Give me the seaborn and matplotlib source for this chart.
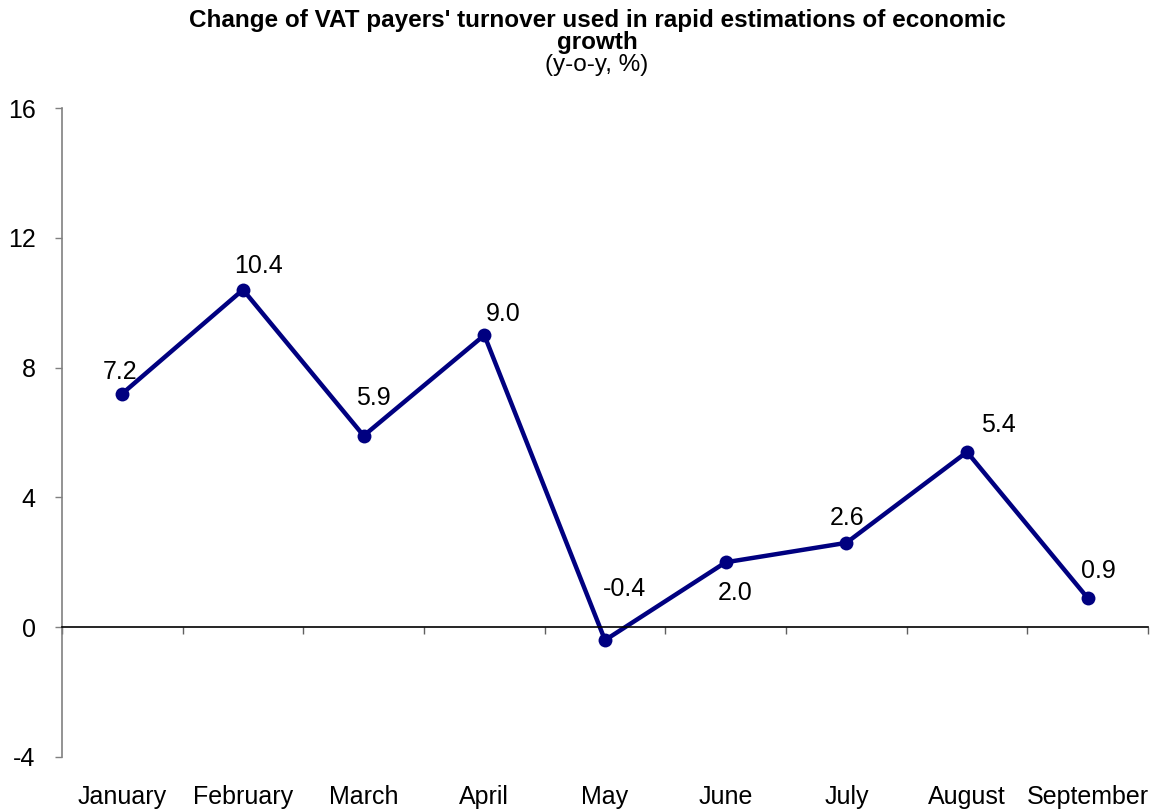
import matplotlib
matplotlib.use("Agg")
import matplotlib.pyplot as plt
import seaborn as sns
import pandas as pd

months = ["January", "February", "March", "April", "May", "June", "July", "August", "September"]
values = [7.2, 10.4, 5.9, 9.0, -0.4, 2.0, 2.6, 5.4, 0.9]
yticks = [-4, 0, 4, 8, 12, 16]

# label offsets in pixels (style only)
label_offsets = [(-2, 22), (16, 24), (10, 38), (19, 21), (19, 51), (9, -31), (1, 25), (31, 27), (11, 27)]

sns.set_style("white")
plt.rcParams["font.family"] = ["Liberation Sans", "DejaVu Sans"]
plt.rcParams["text.color"] = "black"

fig = plt.figure(figsize=(11.54, 8.11), dpi=100)
ax = fig.add_axes([62/1154, 1-757/811, (1148-62)/1154, (757-108)/811])

df = pd.DataFrame({"month": months, "value": values})
sns.lineplot(data=df, x="month", y="value", ax=ax, color="#000080", linewidth=3.2,
             marker="o", markersize=10, markeredgewidth=0, sort=False)

ax.set_xlim(-0.5, len(months) - 0.5)
ax.set_ylim(yticks[0], yticks[-1])
ax.set_yticks(yticks)
ax.set_yticklabels([str(t) for t in yticks], fontsize=18)
ax.set_xlabel("")
ax.set_ylabel("")

for s in ["top", "right"]:
    ax.spines[s].set_visible(False)
ax.spines["left"].set_color("#808080")
ax.spines["left"].set_linewidth(1.2)
ax.spines["bottom"].set_position(("data", 0))
ax.spines["bottom"].set_color("black")
ax.spines["bottom"].set_linewidth(1.2)

ax.set_xticks([i - 0.5 for i in range(len(months) + 1)])
ax.set_xticklabels([])
ax.tick_params(axis="x", direction="out", length=5, width=1, color="#606060", bottom=True)
ax.tick_params(axis="y", direction="out", length=5, width=1, color="#808080", left=True,
               pad=14, labelcolor="black")

for i, (m, v) in enumerate(zip(months, values)):
    dx, dy = label_offsets[i]
    ax.annotate(f"{v:.1f}", (i, v), xytext=(dx, dy), textcoords="offset pixels",
                ha="center", va="center", fontsize=18, color="black")
    ax.annotate(m, (i, yticks[0]), xytext=(0, -40), textcoords="offset pixels",
                ha="center", va="center", fontsize=18, color="black", annotation_clip=False)

fig.text(597/1154, 1-20/811, "Change of VAT payers' turnover used in rapid estimations of economic",
         ha="center", va="center", fontsize=17.5, fontweight="bold", color="black")
fig.text(597/1154, 1-42/811, "growth", ha="center", va="center", fontsize=17.5,
         fontweight="bold", color="black")
fig.text(597/1154, 1-65/811, "(y-o-y, %)", ha="center", va="center", fontsize=17.5, color="black")

fig.savefig("out.png", dpi=100)
